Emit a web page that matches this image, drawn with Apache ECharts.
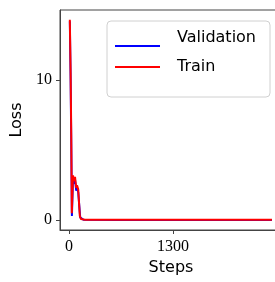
<!DOCTYPE html>
<html>
<head>
<meta charset="utf-8">
<script src="https://cdn.jsdelivr.net/npm/echarts@6/dist/echarts.min.js"></script>
<style>
  html, body { margin: 0; padding: 0; background: #fff; }
  #chart { width: 275px; height: 282px; }
</style>
</head>
<body>
<div id="chart"></div>
<script>
// values
var steps      = [10, 20, 28, 35, 50, 62, 75, 90, 100, 115, 135, 150, 170, 200, 600, 1200, 1800, 2540];
var trainLoss  = [14.3, 10.5, 6.0, 0.5, 3.2, 2.8, 3.1, 2.3, 2.5, 2.2, 0.3, 0.08, 0.04, 0.03, 0.03, 0.03, 0.03, 0.03];
var valSteps   = [10, 20, 28, 36, 50, 62, 75, 90, 100, 115, 140, 160, 180, 200, 600, 1200, 1800, 2540];
var valLoss    = [14.2, 10.0, 5.5, 0.3, 3.0, 2.6, 2.9, 2.1, 2.3, 2.0, 0.2, 0.06, 0.03, 0.02, 0.02, 0.02, 0.02, 0.02];
var xTicks     = [0, 1300];
var yTicks     = [0, 10];

function pairs(xs, ys) {
  let out = [];
  for (let i = 0; i < xs.length; i++) out.push([xs[i], ys[i]]);
  return out;
}

var chart = echarts.init(document.getElementById('chart'));
var serif = '"Liberation Serif", "DejaVu Serif", serif';
var sans = '"DejaVu Sans", sans-serif';
var axisColor = '#444';

var option = {
  animation: false,
  grid: {
    left: 60, top: 10, width: 222, height: 220,
    outerBoundsMode: 'none', containLabel: false,
    show: true, borderColor: axisColor, borderWidth: 1, backgroundColor: 'transparent'
  },
  legend: {
    orient: 'vertical',
    left: 107, top: 21,
    padding: [9, 14, 22, 8],
    itemGap: -3,
    itemWidth: 45, itemHeight: 2,
    icon: 'rect',
    borderColor: '#d0d0d0', borderWidth: 1, borderRadius: 4,
    backgroundColor: '#fff',
    data: ['Validation', 'Train'],
    formatter: function (name) {
      return name === 'Validation' ? '{v|' + name + '}' : '{t|' + name + '}';
    },
    textStyle: {
      fontFamily: sans, fontSize: 16, color: '#000',
      rich: {
        v: { fontFamily: sans, fontSize: 16, lineHeight: 16, padding: [0, 0, 16, 12] },
        t: { fontFamily: sans, fontSize: 16, lineHeight: 16, padding: [0, 0, 0, 12] }
      }
    }
  },
  xAxis: {
    type: 'value',
    min: -113, max: 2666,
    name: 'Steps', nameLocation: 'middle', nameGap: 30,
    nameTextStyle: { fontFamily: sans, fontSize: 16, color: '#000' },
    splitLine: { show: false },
    axisLine: { show: true, onZero: false, lineStyle: { color: axisColor, width: 1 } },
    axisTick: { show: true, length: 4, customValues: xTicks, lineStyle: { color: axisColor } },
    axisLabel: {
      customValues: xTicks, margin: 9, fontFamily: serif, fontSize: 16, color: '#000',
      formatter: function (v) { return String(v); }
    }
  },
  yAxis: {
    type: 'value',
    min: -0.7, max: 15.0,
    name: 'Loss', nameLocation: 'middle', nameGap: 26,
    nameTextStyle: { fontFamily: sans, fontSize: 16, color: '#000' },
    splitLine: { show: false },
    axisLine: { show: true, onZero: false, lineStyle: { color: axisColor, width: 1 } },
    axisTick: { show: true, length: 4, customValues: yTicks, lineStyle: { color: axisColor } },
    axisLabel: {
      customValues: yTicks, margin: 8, fontFamily: serif, fontSize: 16, color: '#000',
      formatter: function (v) { return String(v); }
    }
  },
  series: [
    {
      name: 'Validation', type: 'line', data: pairs(valSteps, valLoss),
      showSymbol: false, symbol: 'none',
      lineStyle: { color: '#0000ff', width: 2 }, itemStyle: { color: '#0000ff' }
    },
    {
      name: 'Train', type: 'line', data: pairs(steps, trainLoss),
      showSymbol: false, symbol: 'none',
      lineStyle: { color: '#ff0000', width: 2 }, itemStyle: { color: '#ff0000' }
    }
  ]
};
chart.setOption(option);
</script>
</body>
</html>
